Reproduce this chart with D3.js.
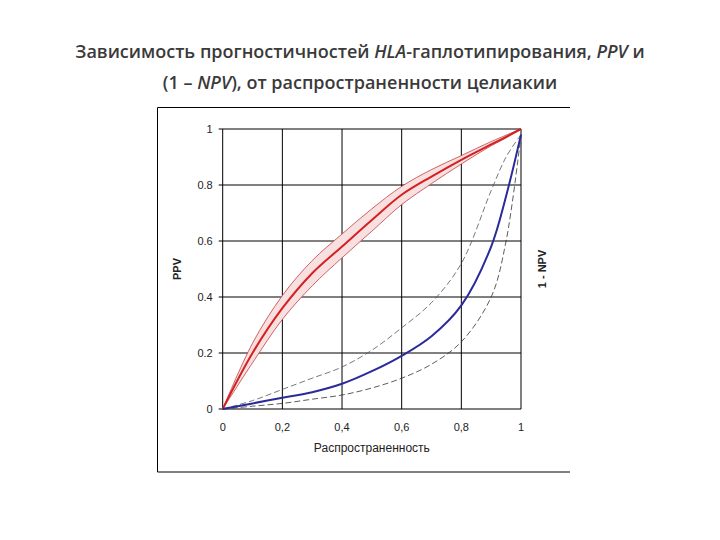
<!DOCTYPE html><html><head><meta charset="utf-8"><script src="https://cdn.jsdelivr.net/npm/d3@7"></script>
<style>body{margin:0;background:#fff}</style></head><body><svg id="c" width="720" height="540"></svg><script>
const xs=[0,0.1,0.2,0.3,0.4,0.5,0.6,0.7,0.8,0.9,0.95,1];
const ppv=[0,0.2,0.36,0.485,0.58,0.675,0.765,0.83,0.89,0.945,0.972,1];
const ppvHi=[0,0.235,0.405,0.53,0.625,0.715,0.795,0.855,0.905,0.955,0.978,1];
const ppvLo=[0,0.165,0.32,0.44,0.54,0.635,0.73,0.805,0.875,0.94,0.968,1];
const npv=[0,0.02,0.04,0.06,0.09,0.135,0.19,0.26,0.37,0.58,0.76,0.98];
const npvHi=[0,0.03,0.07,0.11,0.15,0.21,0.29,0.38,0.52,0.78,0.9,0.98];
const npvLo=[0,0.01,0.02,0.035,0.05,0.075,0.11,0.16,0.24,0.4,0.6,0.98];
const xTicks=["0","0,2","0,4","0,6","0,8","1"], yTicks=["0","0.2","0.4","0.6","0.8","1"];
const svg=d3.select("#c");
const x=d3.scaleLinear([0,1],[222.7,521]), y=d3.scaleLinear([0,1],[409,129]);
const t=svg.append("text").attr("text-anchor","middle").attr("font-family","Open Sans").attr("font-weight",600).attr("font-size",18).attr("fill","#3a3a3a");
const l1=t.append("tspan").attr("x",360).attr("y",58);
l1.append("tspan").text("Зависимость прогностичностей ");l1.append("tspan").attr("font-style","italic").text("HLA");
l1.append("tspan").text("-гаплотипирования, ");l1.append("tspan").attr("font-style","italic").text("PPV");l1.append("tspan").text(" и");
const l2=t.append("tspan").attr("x",360).attr("y",89);
l2.append("tspan").text("(1 – ");l2.append("tspan").attr("font-style","italic").text("NPV");l2.append("tspan").text("), от распространенности целиакии");
svg.append("path").attr("d","M570,107.5H157.5V472H570").attr("fill","none").attr("stroke","#000");
const g=svg.append("g").attr("font-family","Liberation Sans").attr("font-size",11).attr("fill","#222");
[0,0.2,0.4,0.6,0.8,1].forEach((v,i)=>{
 svg.append("line").attr("x1",x(v)).attr("x2",x(v)).attr("y1",y(0)).attr("y2",y(1)).attr("stroke","#000");
 svg.append("line").attr("y1",y(v)).attr("y2",y(v)).attr("x1",x(0)-4).attr("x2",x(1)).attr("stroke","#000");
 g.append("text").attr("x",x(v)).attr("y",y(0)+22).attr("text-anchor","middle").text(xTicks[i]);
 g.append("text").attr("x",x(0)-10).attr("y",y(v)+4).attr("text-anchor","end").text(yTicks[i]);
});
g.append("text").attr("x",x(0.5)).attr("y",452).attr("text-anchor","middle").attr("font-size",12).text("Распространенность");
g.append("text").attr("transform",`translate(181,${y(0.5)}) rotate(-90)`).attr("text-anchor","middle").attr("font-weight","bold").text("PPV");
g.append("text").attr("transform",`translate(546,${y(0.5)}) rotate(-90)`).attr("text-anchor","middle").attr("font-weight","bold").text("1 - NPV");
const cv=d3.curveCatmullRom.alpha(0.5);
const line=a=>d3.line().x((d,i)=>x(xs[i])).y(d=>y(d)).curve(cv)(a);
const area=d3.area().x((d,i)=>x(xs[i])).y0(d=>y(d[0])).y1(d=>y(d[1])).curve(cv);
svg.append("path").attr("d",area(ppvLo.map((v,i)=>[v,ppvHi[i]]))).attr("fill","#f9e0e0");
[[ppvHi,"#c04040",0.8,null],[ppvLo,"#c04040",0.8,null],[ppv,"#d42020",2,null],
 [npvHi,"#555",0.8,"6,3"],[npvLo,"#333",0.8,"6,3"],[npv,"#2a2a9a",2,null]].forEach(([a,c,w,da])=>
 svg.append("path").attr("d",line(a)).attr("fill","none").attr("stroke",c).attr("stroke-width",w).attr("stroke-dasharray",da));
</script></body></html>
